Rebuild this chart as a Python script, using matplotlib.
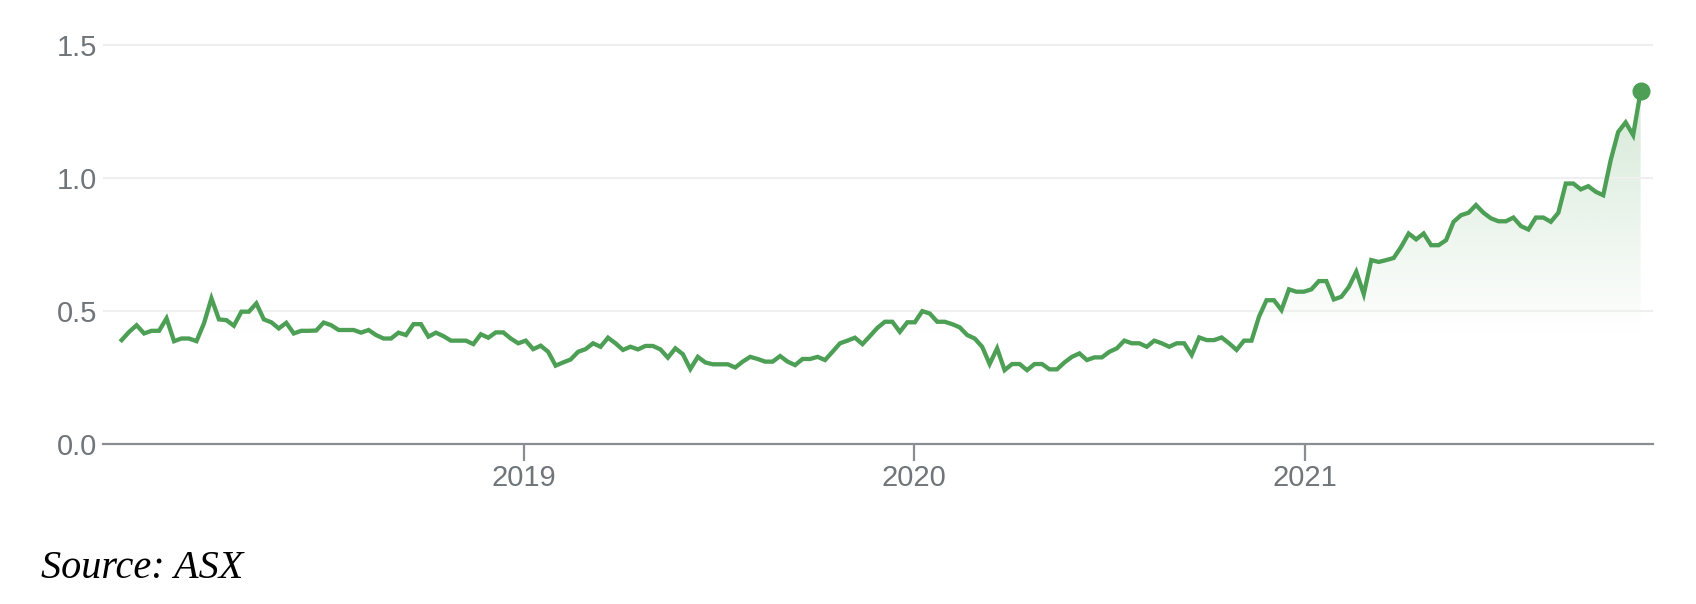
import matplotlib
matplotlib.use("Agg")
import matplotlib.pyplot as plt
import numpy as np
import pandas as pd
from matplotlib.colors import to_rgb

# weekly closing price (AUD)
start_date = "2017-12-21"
prices = [
    0.389, 0.420, 0.445, 0.414, 0.424, 0.424, 0.471, 0.385, 0.395, 0.395,
    0.385, 0.452, 0.546, 0.467, 0.464, 0.443, 0.496, 0.496, 0.527, 0.467,
    0.456, 0.433, 0.454, 0.414, 0.424, 0.424, 0.425, 0.455, 0.445, 0.427,
    0.427, 0.427, 0.417, 0.427, 0.408, 0.395, 0.395, 0.417, 0.408, 0.449,
    0.449, 0.402, 0.417, 0.404, 0.387, 0.387, 0.387, 0.374, 0.411, 0.398,
    0.418, 0.418, 0.395, 0.377, 0.387, 0.355, 0.368, 0.345, 0.293, 0.305,
    0.316, 0.345, 0.355, 0.377, 0.364, 0.398, 0.377, 0.352, 0.364, 0.354,
    0.367, 0.367, 0.354, 0.323, 0.358, 0.336, 0.280, 0.326, 0.305, 0.298,
    0.298, 0.298, 0.286, 0.308, 0.326, 0.318, 0.308, 0.308, 0.329, 0.308,
    0.295, 0.318, 0.318, 0.326, 0.314, 0.345, 0.377, 0.387, 0.398, 0.374,
    0.404, 0.435, 0.458, 0.458, 0.420, 0.456, 0.456, 0.498, 0.489, 0.458,
    0.458, 0.449, 0.437, 0.408, 0.395, 0.364, 0.299, 0.358, 0.276, 0.299,
    0.299, 0.276, 0.299, 0.299, 0.279, 0.279, 0.305, 0.326, 0.339, 0.314,
    0.324, 0.324, 0.345, 0.358, 0.387, 0.377, 0.377, 0.364, 0.387, 0.377,
    0.364, 0.377, 0.377, 0.333, 0.399, 0.389, 0.389, 0.399, 0.377, 0.352,
    0.387, 0.387, 0.477, 0.539, 0.539, 0.502, 0.580, 0.571, 0.571, 0.580,
    0.611, 0.611, 0.542, 0.552, 0.589, 0.646, 0.562, 0.690, 0.683, 0.690,
    0.698, 0.740, 0.790, 0.768, 0.790, 0.746, 0.746, 0.765, 0.834, 0.859,
    0.868, 0.897, 0.868, 0.847, 0.836, 0.836, 0.850, 0.818, 0.805, 0.850,
    0.850, 0.834, 0.868, 0.978, 0.978, 0.956, 0.968, 0.947, 0.934, 1.066,
    1.172, 1.208, 1.160, 1.325,
]
dates = pd.date_range(start_date, periods=len(prices), freq="7D")

year_ticks = pd.to_datetime(["2019-01-01", "2020-01-01", "2021-01-01"])
year_labels = ["2019", "2020", "2021"]
y_ticks = [0.0, 0.5, 1.0, 1.5]
y_labels = ["0.0", "0.5", "1.0", "1.5"]

green = "#4c9f54"
label_grey = "#70757a"

plt.rcParams["font.family"] = ["Liberation Sans", "DejaVu Sans"]

fig = plt.figure(figsize=(16.96, 6.04), dpi=100)
ax = fig.add_axes([0.0607, 0.2657, 0.9139, 0.669])

ax.plot(dates, prices, color=green, lw=3.1, solid_joinstyle="miter", zorder=3)
ax.plot(dates[-1:], prices[-1:], "o", color=green, ms=12, zorder=4)

# soft gradient under the line
poly = ax.fill_between(dates, prices, 0, facecolor="none", edgecolor="none")
ys = np.linspace(0, 1.52, 256)
grad = np.zeros((256, 1, 4))
grad[..., :3] = to_rgb(green)
grad[:, 0, 3] = np.clip((ys - 0.4) / 0.95, 0, 1) * 0.24
x0 = matplotlib.dates.date2num(dates[0])
x1 = matplotlib.dates.date2num(dates[-1])
im = ax.imshow(grad, aspect="auto", origin="lower", extent=[x0, x1, 0, 1.52],
               zorder=1, interpolation="bilinear")
im.set_clip_path(poly.get_paths()[0], transform=ax.transData)

ax.set_xlim(dates[0] - pd.Timedelta(days=17.5), dates[-1] + pd.Timedelta(days=11.5))
ax.set_ylim(0, 1.52)

ax.set_yticks(y_ticks)
ax.set_yticklabels(y_labels)
ax.set_xticks(year_ticks)
ax.set_xticklabels(year_labels)

ax.yaxis.grid(True, color="#efefef", lw=1.5, zorder=0)
for s in ["top", "right", "left"]:
    ax.spines[s].set_visible(False)
ax.spines["bottom"].set_color("#8a8e92")
ax.spines["bottom"].set_linewidth(1.6)

ax.tick_params(axis="y", length=0, pad=4, labelsize=21, labelcolor=label_grey)
ax.tick_params(axis="x", length=12, width=1.6, color="#8a8e92", pad=3,
               labelsize=21, labelcolor=label_grey)

fig.text(0.024, 0.043, "Source: ASX", family="Liberation Serif", style="italic",
         fontsize=29, color="black")

fig.savefig("out.png", dpi=100, facecolor="white")
